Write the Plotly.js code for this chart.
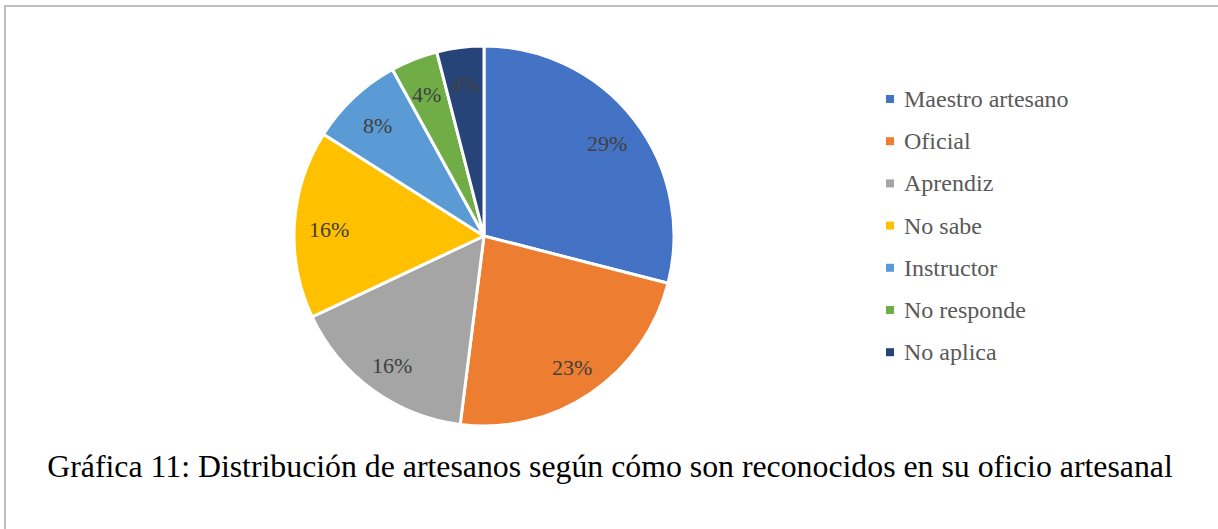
<!DOCTYPE html>
<html>
<head>
<meta charset="utf-8">
<script src="https://cdn.plot.ly/plotly-3.0.1.min.js"></script>
<style>
  html, body { margin: 0; padding: 0; background: #fff; overflow: hidden; }
  #wrap { position: relative; width: 1218px; height: 529px; overflow: hidden; }
  #chart { width: 1218px; height: 529px; }
  #frame { position: absolute; left: 4px; top: 5px; width: 1400px; height: 700px;
           border-top: 2px solid #bfbfbf; border-left: 2px solid #bfbfbf; pointer-events: none; }
</style>
</head>
<body>
<div id="wrap">
  <div id="chart"></div>
  <div id="frame"></div>
</div>
<script>
const categories = ["Maestro artesano", "Oficial", "Aprendiz", "No sabe", "Instructor", "No responde", "No aplica"];
const percentages = [29, 23, 16, 16, 8, 4, 4];
const colors = ["#4472C4", "#ED7D31", "#A5A5A5", "#FFC000", "#5B9BD5", "#70AD47", "#264478"];
const chartTitle = "Gráfica 11: Distribución de artesanos según cómo son reconocidos en su oficio artesanal";

const W = 1218, H = 529;
const cx = 484, cy = 236, R = 190;

const trace = {
  type: "pie",
  labels: categories,
  values: percentages,
  sort: false,
  direction: "clockwise",
  rotation: 0,
  marker: { colors: colors, line: { color: "#ffffff", width: 3 } },
  textinfo: "none",
  hoverinfo: "label+percent",
  showlegend: false,
  domain: { x: [(cx - R) / W, (cx + R) / W], y: [(H - cy - R) / H, (H - cy + R) / H] }
};

const shapes = [], annotations = [];

// Data labels placed at each slice's mid-angle, derived from the values
const total = percentages.reduce((a, b) => a + b, 0);
let cum = 0;
const labelR = 0.82 * R;
percentages.forEach((v, i) => {
  const mid = (cum + v / 2) / total * 2 * Math.PI;
  cum += v;
  const px = cx + labelR * Math.sin(mid);
  const py = cy - labelR * Math.cos(mid) + 3;
  annotations.push({ xref: "paper", yref: "paper", x: px / W, y: 1 - py / H,
    xanchor: "center", yanchor: "middle", showarrow: false,
    text: Math.round(v / total * 100) + "%",
    font: { family: "Liberation Serif", size: 22, color: "#404040" } });
});

// Legend built from the category arrays
const legX = 890, legY0 = 99, legDy = 42.2, sq = 8;
categories.forEach((c, i) => {
  const y = legY0 + i * legDy;
  shapes.push({ type: "rect", xref: "paper", yref: "paper",
    x0: (legX - sq / 2) / W, x1: (legX + sq / 2) / W,
    y0: 1 - (y + sq / 2) / H, y1: 1 - (y - sq / 2) / H,
    fillcolor: colors[i], line: { width: 0 } });
  annotations.push({ xref: "paper", yref: "paper", x: (legX + 12) / W, y: 1 - y / H,
    xanchor: "left", yanchor: "middle", showarrow: false, text: c,
    font: { family: "Liberation Serif", size: 24, color: "#595959" } });
});

const layout = {
  width: W, height: H,
  margin: { l: 0, r: 0, t: 0, b: 0 },
  paper_bgcolor: "#ffffff",
  showlegend: false,
  title: { text: chartTitle, x: 610 / W, xanchor: "center", xref: "paper",
           y: 1 - 466 / H, yanchor: "middle", yref: "container",
           font: { family: "Liberation Serif", size: 31.8, color: "#000000" } },
  shapes: shapes,
  annotations: annotations
};

Plotly.newPlot("chart", [trace], layout, { displayModeBar: false, staticPlot: true });
</script>
</body>
</html>
